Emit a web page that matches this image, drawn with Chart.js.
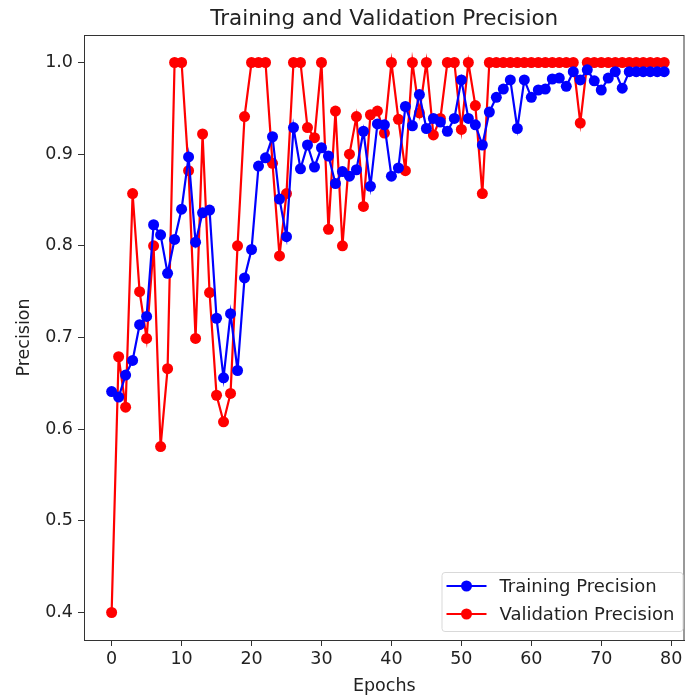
<!DOCTYPE html>
<html>
<head>
<meta charset="utf-8">
<script src="https://cdn.jsdelivr.net/npm/chart.js@4.4.0/dist/chart.umd.min.js"></script>
<style>
body { margin: 0; background: #fff; overflow: hidden; }
#wrap { width: 690px; height: 697px; }
</style>
</head>
<body>
<div id="wrap"><canvas id="myChart" width="690" height="697"></canvas></div>
<script>
// Data
var epochs = [0, 1, 2, 3, 4, 5, 6, 7, 8, 9, 10, 11, 12, 13, 14, 15, 16, 17, 18, 19,
    20, 21, 22, 23, 24, 25, 26, 27, 28, 29, 30, 31, 32, 33, 34, 35, 36, 37, 38, 39,
    40, 41, 42, 43, 44, 45, 46, 47, 48, 49, 50, 51, 52, 53, 54, 55, 56, 57, 58, 59,
    60, 61, 62, 63, 64, 65, 66, 67, 68, 69, 70, 71, 72, 73, 74, 75, 76, 77, 78, 79];

var trainPrecision = [0.641, 0.635, 0.659, 0.675, 0.714, 0.723, 0.823, 0.812, 0.770, 0.807,
    0.840, 0.897, 0.804, 0.836, 0.839, 0.721, 0.656, 0.726, 0.664, 0.765,
    0.796, 0.887, 0.896, 0.919, 0.851, 0.810, 0.929, 0.884, 0.910, 0.886,
    0.907, 0.898, 0.868, 0.881, 0.876, 0.883, 0.925, 0.865, 0.933, 0.932,
    0.876, 0.885, 0.952, 0.931, 0.965, 0.928, 0.939, 0.935, 0.925, 0.939,
    0.981, 0.939, 0.932, 0.910, 0.946, 0.962, 0.971, 0.981, 0.928, 0.981,
    0.962, 0.970, 0.971, 0.982, 0.983, 0.974, 0.990, 0.981, 0.992, 0.980,
    0.970, 0.983, 0.990, 0.972, 0.990, 0.990, 0.990, 0.990, 0.990, 0.990];

var valPrecision = [0.400, 0.679, 0.624, 0.857, 0.750, 0.699, 0.800, 0.581, 0.666, 1.0,
    1.0, 0.882, 0.699, 0.922, 0.749, 0.637, 0.608, 0.639, 0.800, 0.941,
    1.0, 1.0, 1.0, 0.890, 0.789, 0.857, 1.0, 1.0, 0.929, 0.918,
    1.0, 0.818, 0.947, 0.800, 0.900, 0.941, 0.843, 0.943, 0.947, 0.923,
    1.0, 0.938, 0.882, 1.0, 0.945, 1.0, 0.921, 0.939, 1.0, 1.0,
    0.927, 1.0, 0.953, 0.857, 1.0, 1.0, 1.0, 1.0, 1.0, 1.0,
    1.0, 1.0, 1.0, 1.0, 1.0, 1.0, 1.0, 0.934, 1.0, 1.0,
    1.0, 1.0, 1.0, 1.0, 1.0, 1.0, 1.0, 1.0, 1.0, 1.0];

var xTicks = [0, 10, 20, 30, 40, 50, 60, 70, 80];
var yTicks = [0.4, 0.5, 0.6, 0.7, 0.8, 0.9, 1.0];

var textColor = '#222';
var fontFamily = '"DejaVu Sans", sans-serif';

function toPoints(values) {
    return values.map(function (v, i) { return { x: epochs[i], y: v }; });
}

// title centred over the plot, plus the frame around it
var framePlugin = {
    id: 'frame',
    beforeDatasetsDraw: function (chart) {
        var a = chart.chartArea, ctx = chart.ctx;
        ctx.save();
        ctx.strokeStyle = '#333';
        ctx.lineWidth = 1;
        ctx.strokeRect(a.left + 0.5, a.top + 0.5, a.right - a.left - 1, a.bottom - a.top);
        ctx.fillStyle = textColor;
        ctx.font = '21.5px ' + fontFamily;
        ctx.textAlign = 'center';
        ctx.textBaseline = 'alphabetic';
        ctx.fillText('Training and Validation Precision', (a.left + a.right) / 2, 25);
        ctx.restore();
    }
};

// matplotlib-style legend in the lower right corner
var legendPlugin = {
    id: 'boxLegend',
    afterDraw: function (chart) {
        var a = chart.chartArea, ctx = chart.ctx;
        var w = 241, h = 59;
        var x0 = a.right - 2 - w, y0 = a.bottom - 9 - h;
        ctx.save();
        ctx.fillStyle = 'rgba(255,255,255,0.85)';
        ctx.strokeStyle = '#d9d9d9';
        ctx.lineWidth = 1;
        ctx.beginPath();
        ctx.roundRect(x0 + 0.5, y0 + 0.5, w, h, 3);
        ctx.fill();
        ctx.stroke();
        ctx.font = '18px ' + fontFamily;
        ctx.textBaseline = 'middle';
        chart.data.datasets.forEach(function (ds, i) {
            var cy = y0 + 14 + i * 28;
            ctx.strokeStyle = ds.borderColor;
            ctx.lineWidth = 2.2;
            ctx.beginPath();
            ctx.moveTo(x0 + 5, cy);
            ctx.lineTo(x0 + 45, cy);
            ctx.stroke();
            ctx.fillStyle = ds.backgroundColor;
            ctx.beginPath();
            ctx.arc(x0 + 25, cy, 5.5, 0, Math.PI * 2);
            ctx.fill();
            ctx.fillStyle = textColor;
            ctx.fillText(ds.label, x0 + 58, cy + 1);
        });
        ctx.restore();
    }
};

var ctx = document.getElementById('myChart').getContext('2d');
var myChart = new Chart(ctx, {
    type: 'line',
    data: {
        datasets: [{
            label: 'Training Precision',
            data: toPoints(trainPrecision),
            borderColor: '#0000ff',
            backgroundColor: '#0000ff',
            borderWidth: 2.2,
            pointRadius: 5.5,
            pointBorderWidth: 0,
            tension: 0
        }, {
            label: 'Validation Precision',
            data: toPoints(valPrecision),
            borderColor: '#ff0000',
            backgroundColor: '#ff0000',
            borderWidth: 2.2,
            pointRadius: 5.5,
            pointBorderWidth: 0,
            tension: 0
        }]
    },
    options: {
        responsive: false,
        animation: false,
        clip: false,
        layout: { padding: { top: 35, right: 0, left: 0, bottom: 0 } },
        plugins: {
            legend: { display: false },
            title: { display: false },
            tooltip: { enabled: false }
        },
        scales: {
            x: {
                type: 'linear',
                min: -3.95,
                max: 81.9,
                afterBuildTicks: function (scale) {
                    scale.ticks = xTicks.map(function (v) { return { value: v }; });
                },
                afterFit: function (scale) {
                    scale.height = 57;
                    scale.paddingLeft = 0;
                    scale.paddingRight = 0;
                },
                grid: { drawOnChartArea: false, tickLength: 6, color: '#333' },
                border: { display: true, color: '#333' },
                ticks: { color: textColor, font: { size: 17.5, family: fontFamily }, padding: 3, maxRotation: 0 },
                title: { display: true, text: 'Epochs', color: textColor, font: { size: 17.5, family: fontFamily }, padding: 0 }
            },
            y: {
                min: 0.37,
                max: 1.03,
                afterBuildTicks: function (scale) {
                    scale.ticks = yTicks.map(function (v) { return { value: v }; });
                },
                afterFit: function (scale) {
                    scale.width = 84;
                    scale.paddingTop = 0;
                    scale.paddingBottom = 0;
                },
                grid: { drawOnChartArea: false, tickLength: 6, color: '#333' },
                border: { display: true, color: '#333' },
                ticks: {
                    color: textColor, font: { size: 17.5, family: fontFamily }, padding: 5,
                    callback: function (v) { return v.toFixed(1); }
                },
                title: { display: true, text: 'Precision', color: textColor, font: { size: 17.5, family: fontFamily }, padding: { top: 14, bottom: 0 } }
            }
        }
    },
    plugins: [framePlugin, legendPlugin]
});
</script>
</body>
</html>
